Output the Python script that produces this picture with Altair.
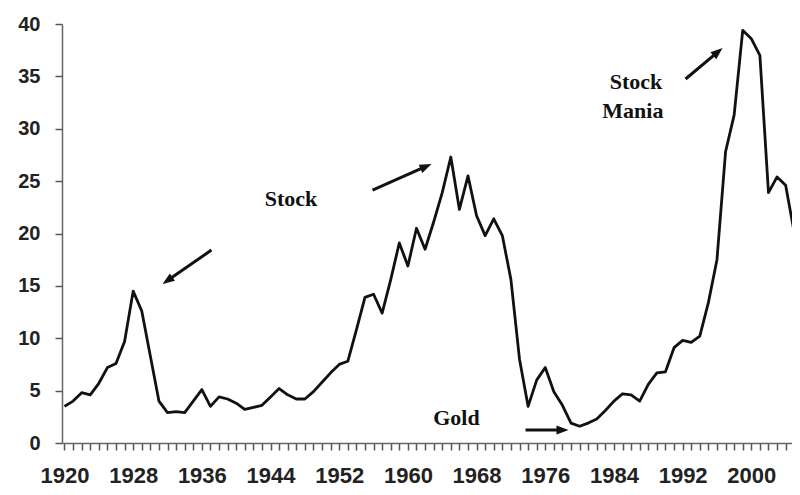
import math
import altair as alt
import pandas as pd

# ---- data ----
years = list(range(1920, 2007))
ratio = [
    3.5, 4.0, 4.8, 4.6, 5.7, 7.2, 7.6, 9.7, 14.5, 12.6,   # 1920-1929
    8.3, 4.0, 2.9, 3.0, 2.9, 4.0, 5.1, 3.5, 4.4, 4.2,     # 1930-1939
    3.8, 3.2, 3.4, 3.6, 4.4, 5.2, 4.6, 4.2, 4.2, 4.9,     # 1940-1949
    5.8, 6.7, 7.5, 7.8, 10.8, 13.9, 14.2, 12.4, 15.6, 19.1,  # 1950-1959
    16.9, 20.5, 18.5, 21.1, 23.9, 27.3, 22.3, 25.5, 21.7, 19.8,  # 1960-1969
    21.4, 19.8, 15.6, 8.0, 3.5, 6.0, 7.2, 4.9, 3.6, 1.9,  # 1970-1979
    1.6, 1.9, 2.3, 3.1, 4.0, 4.7, 4.6, 4.0, 5.6, 6.7,     # 1980-1989
    6.8, 9.1, 9.8, 9.6, 10.2, 13.4, 17.5, 27.8, 31.3, 39.4,  # 1990-1999
    38.6, 37.0, 23.9, 25.4, 24.6, 20.1, 16.5,             # 2000-2006
]

x_tick_values = list(range(1920, 2005))
y_tick_values = [0, 5, 10, 15, 20, 25, 30, 35, 40]

annot_text = ["Stock", "Gold", "Stock", "Mania"]
annot_x = [1946.38, 1965.66, 1986.56, 1986.21]
annot_y = [23.34, 2.39, 34.43, 31.66]

arrow_x1 = [1937.12, 1955.88, 1992.34, 1973.70]
arrow_y1 = [18.42, 24.15, 34.75, 1.24]
arrow_x2 = [1931.42, 1962.75, 1996.65, 1978.71]
arrow_y2 = [15.18, 26.63, 37.71, 1.24]

# ---- layout ----
W, H = 730, 419
x_domain = [1919.71, 2004.74]
y_domain = [0, 40]
px_per_year = W / (x_domain[1] - x_domain[0])
px_per_unit = H / (y_domain[1] - y_domain[0])

xs = alt.Scale(domain=x_domain, nice=False, zero=False)
ys = alt.Scale(domain=y_domain, nice=False)

x_axis = alt.Axis(values=x_tick_values, format="d",
                  labelExpr="datum.value % 8 == 0 ? datum.label : ''",
                  labelOverlap=False, labelFlush=False,
                  title=None, grid=False, tickSize=7, labelPadding=15,
                  labelFontSize=22)
y_axis = alt.Axis(values=y_tick_values, title=None, grid=False,
                  tickSize=7, labelPadding=15, labelFontSize=20)

line_df = pd.DataFrame({"year": years, "ratio": ratio})
text_df = pd.DataFrame({"t": annot_text, "x": annot_x, "y": annot_y})

rows = []
for x1, y1, x2, y2 in zip(arrow_x1, arrow_y1, arrow_x2, arrow_y2):
    dxp = (x2 - x1) * px_per_year
    dyp = -(y2 - y1) * px_per_unit
    L = math.hypot(dxp, dyp)
    ang = math.degrees(math.atan2(dxp, -dyp)) % 360
    f = 6.0 / L
    rows.append({"x1": x1, "y1": y1,
                 "x2s": x2 - f * (x2 - x1), "y2s": y2 - f * (y2 - y1),
                 "hx": x2, "hy": y2, "ang": ang})
arrow_df = pd.DataFrame(rows)

line = alt.Chart(line_df).mark_line(
    color="#111111", strokeWidth=2.8, clip=True, strokeJoin="round"
).encode(
    x=alt.X("year:Q", scale=xs, axis=x_axis),
    y=alt.Y("ratio:Q", scale=ys, axis=y_axis),
)

shafts = alt.Chart(arrow_df).mark_rule(color="#111111", strokeWidth=3).encode(
    x=alt.X("x1:Q", scale=xs, axis=x_axis),
    y=alt.Y("y1:Q", scale=ys, axis=y_axis),
    x2="x2s:Q",
    y2="y2s:Q",
)

heads = alt.Chart(arrow_df).mark_point(
    shape="M0,0L0.75,2L-0.75,2Z", filled=True, color="#111111",
    size=144, opacity=1, strokeWidth=0
).encode(
    x=alt.X("hx:Q", scale=xs, axis=x_axis),
    y=alt.Y("hy:Q", scale=ys, axis=y_axis),
    angle=alt.Angle("ang:Q", scale=None),
)

texts = alt.Chart(text_df).mark_text(
    font="Liberation Serif", fontWeight="bold", fontSize=22,
    color="#111111", align="center", baseline="middle"
).encode(
    x=alt.X("x:Q", scale=xs, axis=x_axis),
    y=alt.Y("y:Q", scale=ys, axis=y_axis),
    text="t:N",
)

chart = alt.layer(line, shafts, heads, texts).properties(
    width=W, height=H,
    autosize=alt.AutoSizeParams(type="none"),
    padding={"left": 54, "top": 16, "right": 0, "bottom": 52},
    background="white",
).configure_view(stroke=None).configure_axis(
    labelFont="Liberation Sans", labelFontWeight="bold", labelColor="#222222",
    domainColor="#666666", domainWidth=1.5, tickColor="#555555", tickWidth=1.5,
)

chart.save("out.html", embed_options={"renderer": "svg", "actions": False})
